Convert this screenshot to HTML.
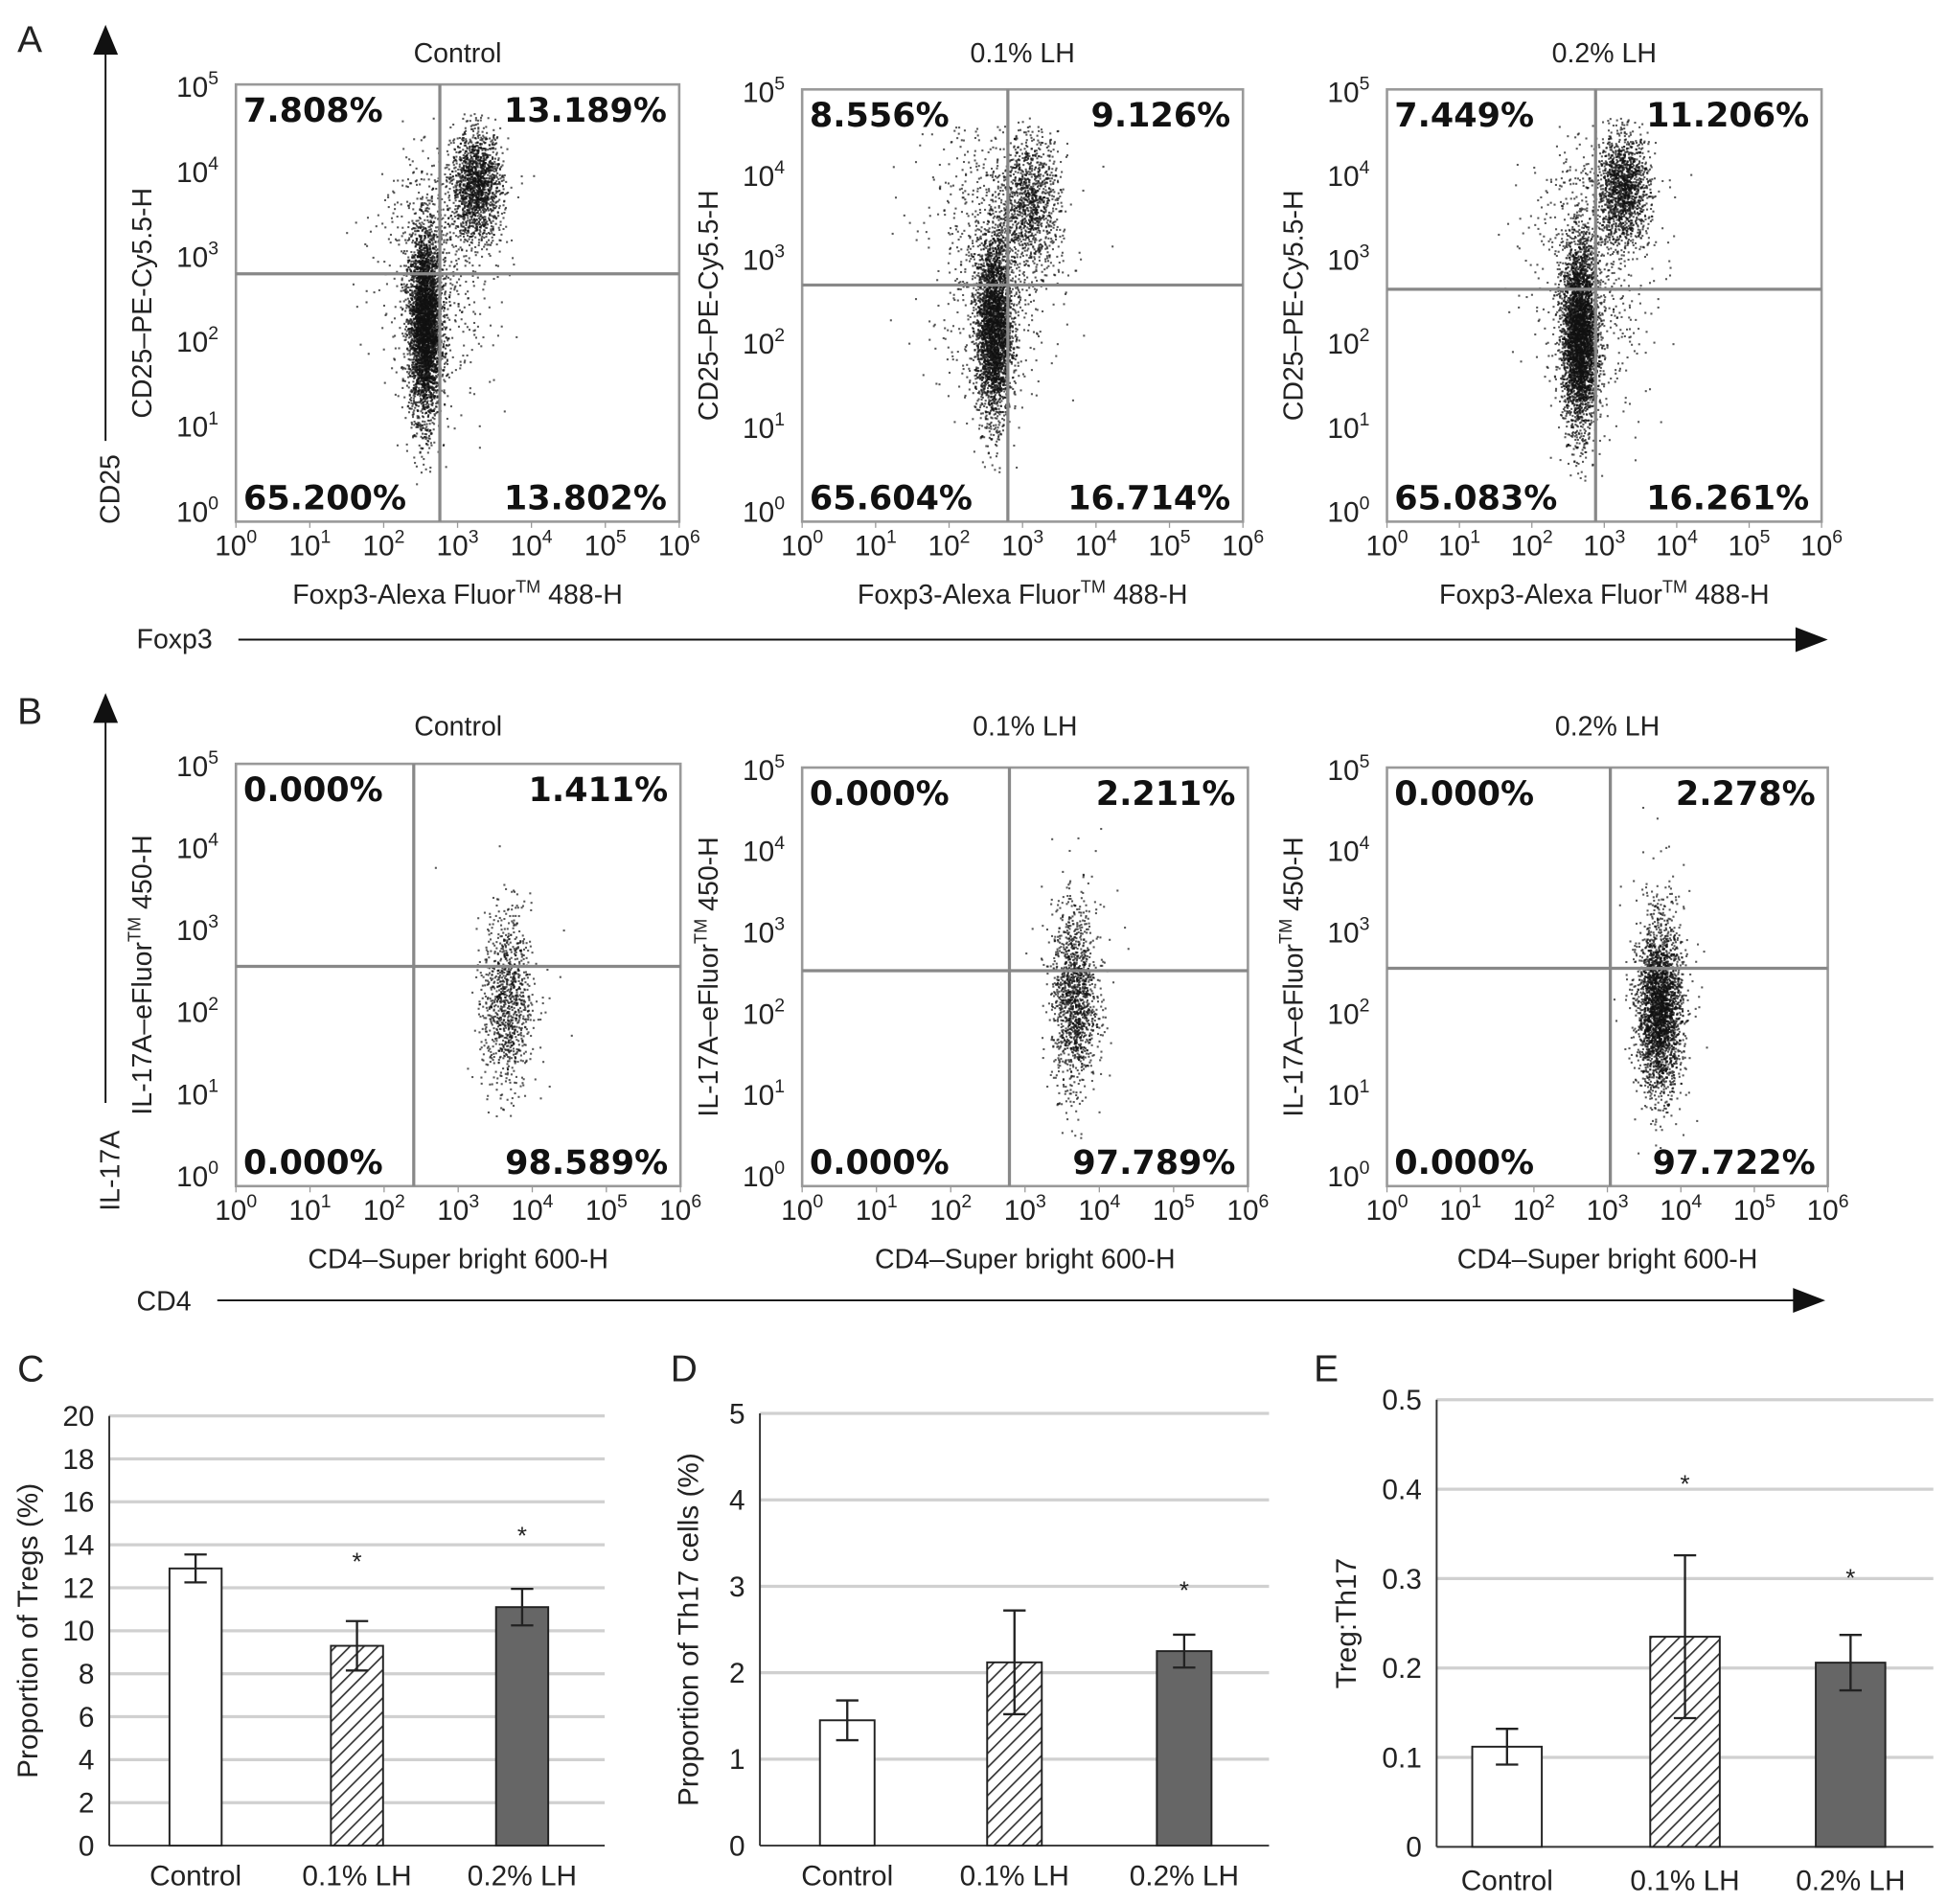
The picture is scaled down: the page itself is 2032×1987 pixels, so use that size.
<!DOCTYPE html>
<html><head><meta charset="utf-8"><style>
html,body{margin:0;padding:0;background:#fff}
svg{display:block}
text{font-family:"Liberation Sans",sans-serif;fill:#222}
.pct{font-family:"DejaVu Sans","Liberation Sans",sans-serif;font-weight:bold;font-size:27px;fill:#111}
</style></head><body>
<svg id="fig" width="2032" height="1987" viewBox="0 0 1568 1533" preserveAspectRatio="none" xmlns="http://www.w3.org/2000/svg">
<defs>
<pattern id="hatch" patternUnits="userSpaceOnUse" width="8" height="8" patternTransform="rotate(45)">
<rect width="8" height="8" fill="#fff"/><line x1="0" y1="0" x2="0" y2="8" stroke="#333" stroke-width="2.6"/>
</pattern>
</defs>
<g id="static">
<text x="14" y="42" font-size="30">A</text>
<text x="14" y="583" font-size="30">B</text>
<text x="14" y="1112" font-size="30">C</text>
<text x="540" y="1112" font-size="30">D</text>
<text x="1058" y="1112" font-size="30">E</text>
<g>
<line x1="85" y1="40" x2="85" y2="355" stroke="#111" stroke-width="1.5"/>
<polygon points="85,20 75,44 95,44" fill="#111"/>
<text transform="translate(96,422) rotate(-90)" font-size="22">CD25</text>
</g>
<g>
<text x="110" y="522" font-size="22">Foxp3</text>
<line x1="192" y1="515" x2="1450" y2="515" stroke="#111" stroke-width="1.5"/>
<polygon points="1472,515 1446,505 1446,525" fill="#111"/>
</g>
<g>
<line x1="85" y1="580" x2="85" y2="888" stroke="#111" stroke-width="1.5"/>
<polygon points="85,558 75,582 95,582" fill="#111"/>
<text transform="translate(96,975) rotate(-90)" font-size="22">IL-17A</text>
</g>
<g>
<text x="110" y="1055" font-size="22">CD4</text>
<line x1="175" y1="1047" x2="1448" y2="1047" stroke="#111" stroke-width="1.5"/>
<polygon points="1470,1047 1444,1037 1444,1057" fill="#111"/>
</g>
</g>
<g id="flow"></g>
<g id="bars"></g>
</svg>
<script>
// ---- Flow cytometry data ----
var flowTitles = ["Control","0.1% LH","0.2% LH","Control","0.1% LH","0.2% LH"];
var quadTL = ["7.808%","8.556%","7.449%","0.000%","0.000%","0.000%"];
var quadTR = ["13.189%","9.126%","11.206%","1.411%","2.211%","2.278%"];
var quadBL = ["65.200%","65.604%","65.083%","0.000%","0.000%","0.000%"];
var quadBR = ["13.802%","16.714%","16.261%","98.589%","97.789%","97.722%"];
var gateX = [2.76,2.8,2.88,2.4,2.79,3.04];
var gateY = [2.8,2.7,2.65,2.56,2.53,2.56];
// clusters: [centerLogX, centerLogY, sdX, sdY, count]
var clustersA0 = [[2.55,2.2,0.11,0.55,3800],[3.25,3.85,0.17,0.32,1500],[2.7,3.0,0.4,0.8,700]];
var clustersA1 = [[2.6,2.2,0.12,0.55,3000],[3.1,3.7,0.2,0.4,1000],[2.6,3.1,0.45,0.85,800]];
var clustersA2 = [[2.65,2.1,0.12,0.55,3600],[3.25,3.85,0.18,0.32,1400],[2.8,3.0,0.42,0.85,800]];
var clustersB0 = [[3.65,2.15,0.16,0.55,900],[3.7,2.3,0.3,0.7,80]];
var clustersB1 = [[3.65,2.2,0.15,0.55,1300],[3.7,2.4,0.3,0.8,80]];
var clustersB2 = [[3.7,2.05,0.15,0.5,2600],[3.7,2.5,0.22,0.8,200]];
var xTicks = [0,1,2,3,4,5,6];
var yTicks = [0,1,2,3,4,5];

// ---- Bar chart data ----
var barCats = ["Control","0.1% LH","0.2% LH"];
var tregVals = [12.9,9.3,11.1];
var tregErr = [0.65,1.15,0.85];
var tregStar = [null,13.4,14.6];
var th17Vals = [1.45,2.12,2.25];
var th17Err = [0.23,0.6,0.19];
var th17Star = [null,null,3.0];
var ratioVals = [0.112,0.235,0.206];
var ratioErr = [0.02,0.091,0.031];
var ratioStar = [null,0.41,0.305];

var NS="http://www.w3.org/2000/svg";
function mk(tag,attrs,parent){var e=document.createElementNS(NS,tag);for(var k in attrs)e.setAttribute(k,attrs[k]);if(parent)parent.appendChild(e);return e;}

var boxes=[[190,547,68,420],[646,1001,72,420],[1117,1467,72,420],[190,548,615,955],[646,1005,618,955],[1117,1472,618,955]];
var yLabels=["CD25\u2013PE-Cy5.5-H","CD25\u2013PE-Cy5.5-H","CD25\u2013PE-Cy5.5-H","IL-17A\u2013eFluor","IL-17A\u2013eFluor","IL-17A\u2013eFluor"];
var xLabels=["Foxp3-Alexa Fluor","Foxp3-Alexa Fluor","Foxp3-Alexa Fluor","CD4\u2013Super bright 600-H","CD4\u2013Super bright 600-H","CD4\u2013Super bright 600-H"];
var clusterSets=[clustersA0,clustersA1,clustersA2,clustersB0,clustersB1,clustersB2];
var seed=12345;function rnd(){seed=(seed*1103515245+12345)%2147483648;return seed/2147483648;}
function gauss(){var u=rnd()||1e-6,v=rnd();return Math.sqrt(-2*Math.log(u))*Math.cos(2*Math.PI*v);}
var flow=document.getElementById('flow');
for(var p=0;p<6;p++){
  var b=boxes[p],x0=b[0],x1=b[1],y0=b[2],y1=b[3];
  var yb=y1-8,yt=y0+2;
  var sx=function(v){return x0+(x1-x0)*v/6;};
  var sy=function(v){return yb-(yb-yt)*v/5;};
  var g=mk('g',{},flow);
  
  
  var t=mk('text',{x:(x0+x1)/2,y:(p<3?50:592),'font-size':22,'text-anchor':'middle'},g);t.textContent=flowTitles[p];
  
  
  var dg=mk('g',{fill:'#111','fill-opacity':0.7},g);
  
  
  var cl=clusterSets[p];
  for(var c=0;c<cl.length;c++){var C=cl[c];for(var i=0;i<C[4];i++){
    var lx=C[0]+gauss()*C[2],ly=C[1]+gauss()*C[3];
    if(lx<0.1||lx>5.9||ly<0||ly>4.7)continue;
    mk('rect',{x:sx(lx).toFixed(1),y:sy(ly).toFixed(1),width:1.6,height:1.6},dg);
  }}
  var bx=mk('rect',{x:x0,y:y0,width:x1-x0,height:y1-y0,fill:'none',stroke:'#999','stroke-width':2},g);
  
  
  var gh=mk('line',{x1:x0,x2:x1,y1:sy(gateY[p]),y2:sy(gateY[p]),stroke:'#888','stroke-width':2.5},g);
  
  
  var gv=mk('line',{x1:sx(gateX[p]),x2:sx(gateX[p]),y1:y0,y2:y1,stroke:'#888','stroke-width':2.5},g);
  
  
  var q=[[quadTL[p],x0+6,y0+30,'start'],[quadTR[p],x1-10,y0+30,'end'],[quadBL[p],x0+6,y1-10,'start'],[quadBR[p],x1-10,y1-10,'end']];
  var qn=['quadrant-tl','quadrant-tr','quadrant-bl','quadrant-br'];
  for(var k=0;k<4;k++){var qt=mk('text',{x:q[k][1],y:q[k][2],'text-anchor':q[k][3],'class':'pct'},g);qt.textContent=q[k][0];
    
    }
  xTicks.forEach(function(v){var tx=mk('text',{x:sx(v),y:y1+27,'font-size':23,'text-anchor':'middle'},g);
    tx.innerHTML='10<tspan dy="-10" font-size="15">'+v+'</tspan>';
    
    
    mk('line',{x1:sx(v),x2:sx(v),y1:y1,y2:y1+5,stroke:'#999'},g);});
  yTicks.forEach(function(v){var ty=mk('text',{x:x0-14,y:sy(v)+8,'font-size':23,'text-anchor':'end'},g);
    ty.innerHTML='10<tspan dy="-10" font-size="15">'+v+'</tspan>';
    
    });
  var xl=mk('text',{x:(x0+x1)/2,y:y1+66,'font-size':22,'text-anchor':'middle'},g);
  if(p<3)xl.innerHTML=xLabels[p]+'<tspan dy="-9" font-size="14">TM</tspan><tspan dy="9"> 488-H</tspan>';else xl.textContent=xLabels[p];
  
  
  var yl=mk('text',{transform:'translate('+(x0-68)+','+((y0+y1)/2)+') rotate(-90)','font-size':22,'text-anchor':'middle'},g);
  if(p<3)yl.textContent=yLabels[p];else yl.innerHTML=yLabels[p]+'<tspan dy="-9" font-size="14">TM</tspan><tspan dy="9"> 450-H</tspan>';
  
  
}

// ---- Bars ----
var barsG=document.getElementById('bars');
var charts=[
 {name:'tregs-chart',x0:88,x1:487,yz:1486,yt:1140,max:20,step:2,dec:0,vals:tregVals,err:tregErr,star:tregStar,title:'Proportion of Tregs (%)',tx:30,cy:1518,bw:42,off:[3,0,0]},
 {name:'th17-chart',x0:612,x1:1022,yz:1486,yt:1138,max:5,step:1,dec:0,vals:th17Vals,err:th17Err,star:th17Star,title:'Proportion of Th17 cells (%)',tx:562,cy:1518,bw:44,off:[2,0,0]},
 {name:'ratio-chart',x0:1157,x1:1557,yz:1487,yt:1127,max:0.5,step:0.1,dec:1,vals:ratioVals,err:ratioErr,star:ratioStar,title:'Treg:Th17',tx:1092,cy:1522,bw:56,off:[-10,0,0]}
];
var fills=['#fff','url(#hatch)','#666'];
charts.forEach(function(ch){
  var g=mk('g',{},barsG);
  
  
  var ys=function(v){return ch.yz-(ch.yz-ch.yt)*v/ch.max;};
  var n=Math.round(ch.max/ch.step);
  for(var i=0;i<=n;i++){var v=i*ch.step;
    if(i>0)mk('line',{x1:ch.x0,x2:ch.x1,y1:ys(v),y2:ys(v),stroke:'#d0d0d0','stroke-width':2.5},g);
    var tl=mk('text',{x:ch.x0-12,y:ys(v)+8,'font-size':23,'text-anchor':'end'},g);tl.textContent=(i==0?'0':v.toFixed(ch.dec));
    
    }
  mk('line',{x1:ch.x0,x2:ch.x0,y1:ch.yt,y2:ch.yz,stroke:'#333','stroke-width':1.5},g);
  mk('line',{x1:ch.x0,x2:ch.x1,y1:ch.yz,y2:ch.yz,stroke:'#333','stroke-width':1.5},g);
  var sp=(ch.x1-ch.x0)/3;
  ch.vals.forEach(function(v,j){
    var cx=ch.x0+sp*(j+0.5)+ch.off[j];
    var r=mk('rect',{x:cx-ch.bw/2,y:ys(v),width:ch.bw,height:ch.yz-ys(v),fill:fills[j],stroke:'#222','stroke-width':1.5},g);
    
    
    var e=ch.err[j],eg=mk('g',{stroke:'#222','stroke-width':1.8},g);
    
    
    mk('line',{x1:cx,x2:cx,y1:ys(v+e),y2:ys(v-e)},eg);
    mk('line',{x1:cx-9,x2:cx+9,y1:ys(v+e),y2:ys(v+e)},eg);
    mk('line',{x1:cx-9,x2:cx+9,y1:ys(v-e),y2:ys(v-e)},eg);
    if(ch.star[j]!=null){var s=mk('text',{x:cx,y:ys(ch.star[j])+10,'font-size':20,'text-anchor':'middle'},g);s.textContent='*';
      
      }
    var cl=mk('text',{x:cx,y:ch.cy,'font-size':23,'text-anchor':'middle'},g);cl.textContent=barCats[j];
    
    
  });
  var tt=mk('text',{transform:'translate('+ch.tx+','+((ch.yt+ch.yz)/2)+') rotate(-90)','font-size':23,'text-anchor':'middle'},g);tt.textContent=ch.title;
  
  
});
</script>
</body></html>
